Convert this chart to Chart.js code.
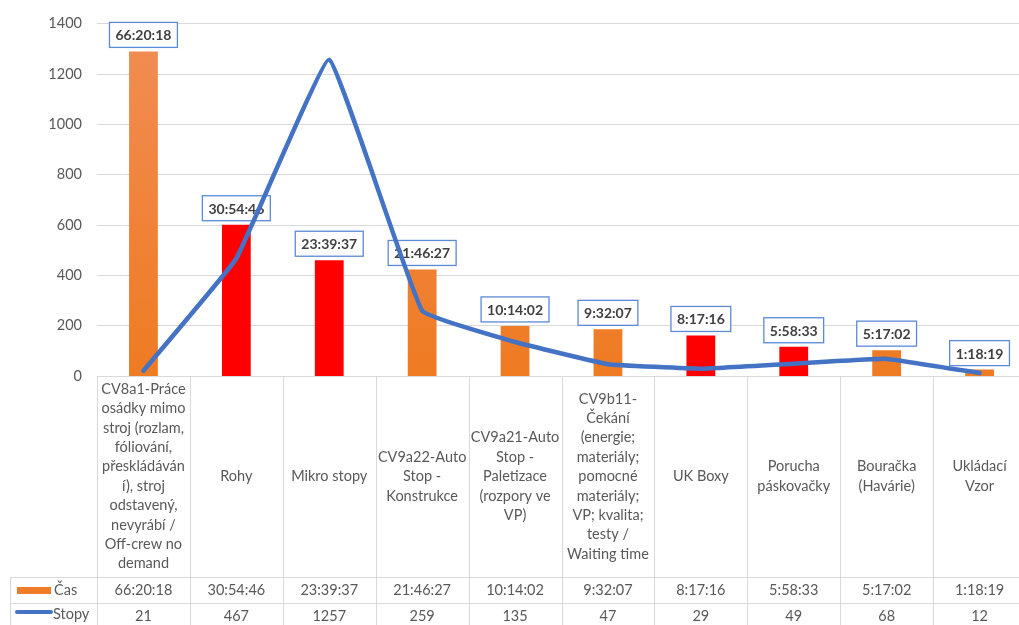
<!DOCTYPE html>
<html>
<head>
<meta charset="utf-8">
<script src="https://cdn.jsdelivr.net/npm/chart.js@4.4.1/dist/chart.umd.min.js"></script>
<style>
    html, body { margin: 0; padding: 0; background: #fff; overflow: hidden; }
    #wrap { width: 1030px; height: 630px; }
</style>
</head>
<body>
<div id="wrap"><canvas id="chart" width="1030" height="630"></canvas></div>
<script>
// ======================================
// DATA
// ======================================
const categories = [
    ["CV8a1-Práce", "osádky mimo", "stroj (rozlam,", "fóliování,", "přeskládáván", "í), stroj", "odstavený,", "nevyrábí /", "Off-crew no", "demand"],
    ["Rohy"],
    ["Mikro stopy"],
    ["CV9a22-Auto", "Stop -", "Konstrukce"],
    ["CV9a21-Auto", "Stop -", "Paletizace", "(rozpory ve", "VP)"],
    ["CV9b11-", "Čekání", "(energie;", "materiály;", "pomocné", "materiály;", "VP; kvalita;", "testy /", "Waiting time"],
    ["UK Boxy"],
    ["Porucha", "páskovačky"],
    ["Bouračka", "(Havárie)"],
    ["Ukládací", "Vzor"]
];
const casLabels = ["66:20:18", "30:54:46", "23:39:37", "21:46:27", "10:14:02", "9:32:07", "8:17:16", "5:58:33", "5:17:02", "1:18:19"];
const stopy = [21, 467, 1257, 259, 135, 47, 29, 49, 68, 12];
const yTicks = [0, 200, 400, 600, 800, 1000, 1200, 1400];

// "h:mm:ss" -> hours (bars sit on a hidden 0-72 h axis)
const casHours = casLabels.map(t => {
    const [h, m, s] = t.split(":").map(Number);
    return h + m / 60 + s / 3600;
});

// ======================================
// STYLE
// ======================================
const FONT = 'Lato, "Liberation Sans", sans-serif';
const TEXT = "#595959";
const GRID = "#d9d9d9";
const BLUE = "#4472c4";
const redBars = [1, 2, 6, 7];

function barColor(c) {
    if (redBars.includes(c.dataIndex)) return "#ff0000";
    const area = c.chart.chartArea;
    if (!area) return "#f07c28";
    const g = c.chart.ctx.createLinearGradient(0, area.top, 0, area.bottom);
    g.addColorStop(0, "#f18d55");
    g.addColorStop(1, "#ef7b22");
    return g;
}

// ======================================
// PLUGINS
// ======================================
const labelBoxes = {
    id: "labelBoxes",
    afterDatasetDraw(chart, args) {
        if (args.index !== 0) return;
        const ctx = chart.ctx;
        ctx.save();
        ctx.font = "bold 14px " + FONT;
        ctx.textAlign = "center";
        ctx.textBaseline = "middle";
        args.meta.data.forEach((bar, i) => {
            const txt = casLabels[i];
            const w = ctx.measureText(txt).width + 12;
            const h = 25;
            const bottom = bar.y - 4;
            ctx.fillStyle = "#fff";
            ctx.fillRect(bar.x - w / 2, bottom - h, w, h);
            ctx.strokeStyle = "#5b8ad6";
            ctx.lineWidth = 1.3;
            ctx.strokeRect(bar.x - w / 2, bottom - h, w, h);
            ctx.fillStyle = "#404040";
            ctx.fillText(txt, bar.x, bottom - h / 2 + 1);
        });
        ctx.restore();
    }
};

const dataTable = {
    id: "dataTable",
    afterDraw(chart) {
        const { ctx, chartArea: a, scales: { x } } = chart;
        const n = categories.length;
        const w = (a.right - a.left) / n;
        const top = a.bottom, casY = top + 201, stopyY = casY + 26, end = stopyY + 26;
        const seg = (x1, y1, x2, y2) => {
            ctx.beginPath();
            ctx.moveTo(x1, y1);
            ctx.lineTo(x2, y2);
            ctx.stroke();
        };
        ctx.save();
        ctx.strokeStyle = GRID;
        ctx.lineWidth = 1;
        seg(10, casY + 0.5, a.right, casY + 0.5);
        seg(10, stopyY + 0.5, a.right, stopyY + 0.5);
        seg(10, end + 0.5, a.right, end + 0.5);
        seg(10.5, casY, 10.5, end);
        for (let i = 0; i <= n; i++) {
            const vx = Math.round(a.left + i * w) + 0.5;
            seg(vx, top, vx, end);
        }

        ctx.fillStyle = TEXT;
        ctx.font = "14.5px " + FONT;
        ctx.textAlign = "center";
        ctx.textBaseline = "middle";
        const mid = top + 100.5, lh = 19.4;
        categories.forEach((lines, i) => {
            const cx = x.getPixelForValue(i);
            const y0 = mid - (lines.length - 1) * lh / 2;
            lines.forEach((ln, k) => ctx.fillText(ln, cx, y0 + k * lh));
            ctx.fillText(casLabels[i], cx, casY + 13.5);
            ctx.fillText(String(stopy[i]), cx, stopyY + 13.5);
        });

        // legend keys
        ctx.fillStyle = "#f07c28";
        ctx.fillRect(17, casY + 10, 34, 7);
        ctx.strokeStyle = BLUE;
        ctx.lineWidth = 4;
        ctx.lineCap = "round";
        seg(17, stopyY + 9, 51, stopyY + 9);
        ctx.fillStyle = TEXT;
        ctx.textAlign = "left";
        ctx.fillText("Čas", 54, casY + 13.5);
        ctx.fillText("Stopy", 53, stopyY + 11);
        ctx.restore();
    }
};

// ======================================
// CHART
// ======================================
const ctx = document.getElementById("chart");
const chart = new Chart(ctx, {
    type: "bar",
    data: {
        labels: categories.map(c => c.join(" ")),
        datasets: [
            {
                type: "bar",
                label: "Čas",
                data: casHours,
                yAxisID: "y2",
                backgroundColor: barColor,
                categoryPercentage: 1,
                barPercentage: 0.31,
                order: 1
            },
            {
                type: "line",
                label: "Stopy",
                data: stopy,
                yAxisID: "y",
                borderColor: BLUE,
                borderWidth: 4.5,
                tension: 0.08,
                pointRadius: 0,
                borderCapStyle: "round",
                borderJoinStyle: "round",
                order: 0
            }
        ]
    },
    options: {
        responsive: false,
        animation: false,
        layout: { padding: { top: 17, right: 4, bottom: 254, left: 0 } },
        plugins: {
            legend: { display: false },
            tooltip: { enabled: false }
        },
        scales: {
            x: { display: false, offset: true },
            y: {
                min: 0,
                max: 1400,
                afterBuildTicks: s => { s.ticks = yTicks.map(v => ({ value: v })); },
                afterFit: s => { s.width = 97; },
                ticks: {
                    color: TEXT,
                    font: { family: FONT, size: 14.5 },
                    padding: 15,
                    callback: v => String(v)
                },
                grid: { color: GRID, drawTicks: false },
                border: { display: false }
            },
            y2: { display: false, min: 0, max: 72 }
        }
    },
    plugins: [labelBoxes, dataTable]
});
</script>
</body>
</html>
